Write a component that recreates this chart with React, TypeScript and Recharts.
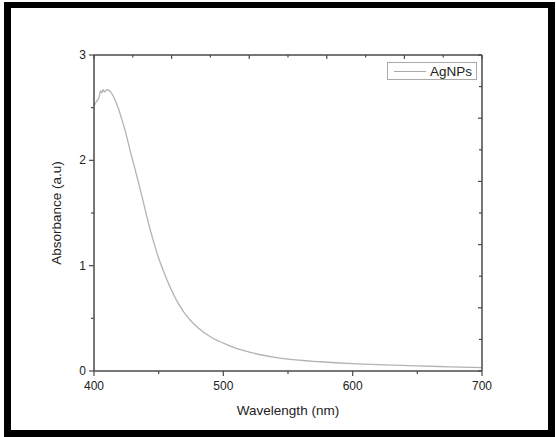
import React from 'react';
import { LineChart, Line, XAxis, YAxis, Legend } from 'recharts';

// UV-Vis spectrum
const wavelength = [
  400, 402, 404, 405, 406, 407, 408, 409, 410, 412, 414, 416, 418, 420, 422, 425, 428, 431, 435, 438,
  442, 446, 450, 454, 458, 462, 466, 470, 475, 480, 485, 490, 495, 500, 510, 520, 530, 540, 550, 575,
  600, 625, 650, 675, 700,
];
const absorbance = [
  2.52, 2.56, 2.6, 2.66, 2.64, 2.67, 2.65, 2.66, 2.67, 2.66, 2.63, 2.58, 2.52, 2.45, 2.37, 2.24, 2.09, 1.95, 1.76, 1.61,
  1.41, 1.23, 1.07, 0.94, 0.82, 0.715, 0.625, 0.55, 0.475, 0.415, 0.365, 0.325, 0.29, 0.265, 0.215, 0.18, 0.152, 0.13, 0.113, 0.088,
  0.07, 0.058, 0.048, 0.04, 0.032,
];

const bottomTicks = [400, 450, 500, 550, 600, 650, 700];
const topTicks = [400, 430, 460, 490, 520, 550, 580, 610, 640, 670, 700];
const leftTicks = [0, 0.5, 1, 1.5, 2, 2.5, 3];
const rightTicks = [0, 0.3, 0.6, 0.9, 1.2, 1.5, 1.8, 2.1, 2.4, 2.7, 3];

const data = wavelength.map((w, i) => ({ w, a: absorbance[i] }));

const AXIS = '#4a4a4a';
const FONT = 'Liberation Sans, Arial, sans-serif';

const BottomTick = (props: any) => {
  const { x, y, payload } = props;
  const major = payload.value % 100 === 0;
  return (
    <g>
      <line x1={x} x2={x} y1={y} y2={y + (major ? 5 : 3)} stroke={AXIS} strokeWidth={1.2} />
      {major && (
        <text x={x} y={y + 19} textAnchor="middle" fontSize={12} fill="#222" fontFamily={FONT}>
          {payload.value}
        </text>
      )}
    </g>
  );
};

const TopTick = (props: any) => {
  const { x, y, index } = props;
  const major = index % 2 === 0;
  return <line x1={x} x2={x} y1={y} y2={y + (major ? 4 : 2.5)} stroke={AXIS} strokeWidth={1.2} />;
};

const LeftTick = (props: any) => {
  const { x, y, payload } = props;
  const major = Number.isInteger(payload.value);
  return (
    <g>
      <line x1={x} x2={x - (major ? 5 : 3)} y1={y} y2={y} stroke={AXIS} strokeWidth={1.2} />
      {major && (
        <text x={x - 8} y={y + 4} textAnchor="end" fontSize={12} fill="#222" fontFamily={FONT}>
          {payload.value}
        </text>
      )}
    </g>
  );
};

const RightTick = (props: any) => {
  const { x, y, index } = props;
  const major = index % 2 === 0;
  return <line x1={x} x2={x - (major ? 4 : 3)} y1={y} y2={y} stroke={AXIS} strokeWidth={1.2} />;
};

const LegendBox = () => (
  <div
    style={{
      width: 90,
      height: 18,
      border: '1px solid #aaa',
      boxSizing: 'border-box',
      display: 'flex',
      alignItems: 'center',
      fontFamily: FONT,
      fontSize: 13.5,
      color: '#222',
      background: '#fff',
    }}
  >
    <div style={{ width: 32, height: 1, background: '#aaa', marginLeft: 6, marginRight: 4 }} />
    <span>AgNPs</span>
  </div>
);

export default function App() {
  return (
    <div style={{ position: 'fixed', left: 0, top: 0, width: 556, height: 437, background: '#fff' }}>
      <div
        style={{
          position: 'absolute',
          left: 4,
          top: 2,
          width: 551,
          height: 435,
          boxSizing: 'border-box',
          borderStyle: 'solid',
          borderColor: '#000',
          borderWidth: '6px 7px 7px 7px',
        }}
      />
      <LineChart width={556} height={437} data={data} margin={{ top: 45, right: 73, bottom: 16, left: 34 }}>
        <XAxis
          dataKey="w"
          type="number"
          domain={[400, 700]}
          ticks={bottomTicks}
          interval={0}
          height={50}
          tickSize={0}
          tickMargin={0}
          tickLine={false}
          axisLine={{ stroke: AXIS, strokeWidth: 1.5 }}
          tick={<BottomTick />}
          label={{
            value: 'Wavelength (nm)',
            position: 'insideBottom',
            offset: 6,
            fill: '#222',
            fontSize: 13.5,
            fontFamily: FONT,
          }}
        />
        <XAxis
          xAxisId="top"
          dataKey="w"
          type="number"
          orientation="top"
          domain={[400, 700]}
          ticks={topTicks}
          interval={0}
          height={10}
          tickSize={0}
          tickMargin={0}
          tickLine={false}
          axisLine={{ stroke: AXIS, strokeWidth: 1.5 }}
          tick={<TopTick />}
        />
        <YAxis
          type="number"
          domain={[0, 3]}
          ticks={leftTicks}
          interval={0}
          width={60}
          tickSize={0}
          tickMargin={0}
          tickLine={false}
          axisLine={{ stroke: AXIS, strokeWidth: 1.5 }}
          tick={<LeftTick />}
          label={{
            value: 'Absorbance (a.u)',
            angle: -90,
            position: 'insideLeft',
            offset: 22,
            style: { textAnchor: 'middle' },
            fill: '#222',
            fontSize: 13.5,
            fontFamily: FONT,
          }}
        />
        <YAxis
          yAxisId="right"
          type="number"
          orientation="right"
          domain={[0, 3]}
          ticks={rightTicks}
          interval={0}
          width={1}
          tickSize={0}
          tickMargin={0}
          tickLine={false}
          axisLine={{ stroke: AXIS, strokeWidth: 1.5 }}
          tick={<RightTick />}
        />
        <Legend
          layout="horizontal"
          verticalAlign="middle"
          align="center"
          wrapperStyle={{ position: 'absolute', left: 387, top: 62, width: 90, height: 18 }}
          content={<LegendBox />}
        />
        <Line
          type="monotone"
          dataKey="a"
          stroke="#b3b3b3"
          strokeWidth={1.3}
          dot={false}
          isAnimationActive={false}
        />
        {/* invisible copy so the mirror axes are bound to a series */}
        <Line
          xAxisId="top"
          yAxisId="right"
          dataKey="a"
          stroke="none"
          dot={false}
          legendType="none"
          isAnimationActive={false}
        />
      </LineChart>
    </div>
  );
}
